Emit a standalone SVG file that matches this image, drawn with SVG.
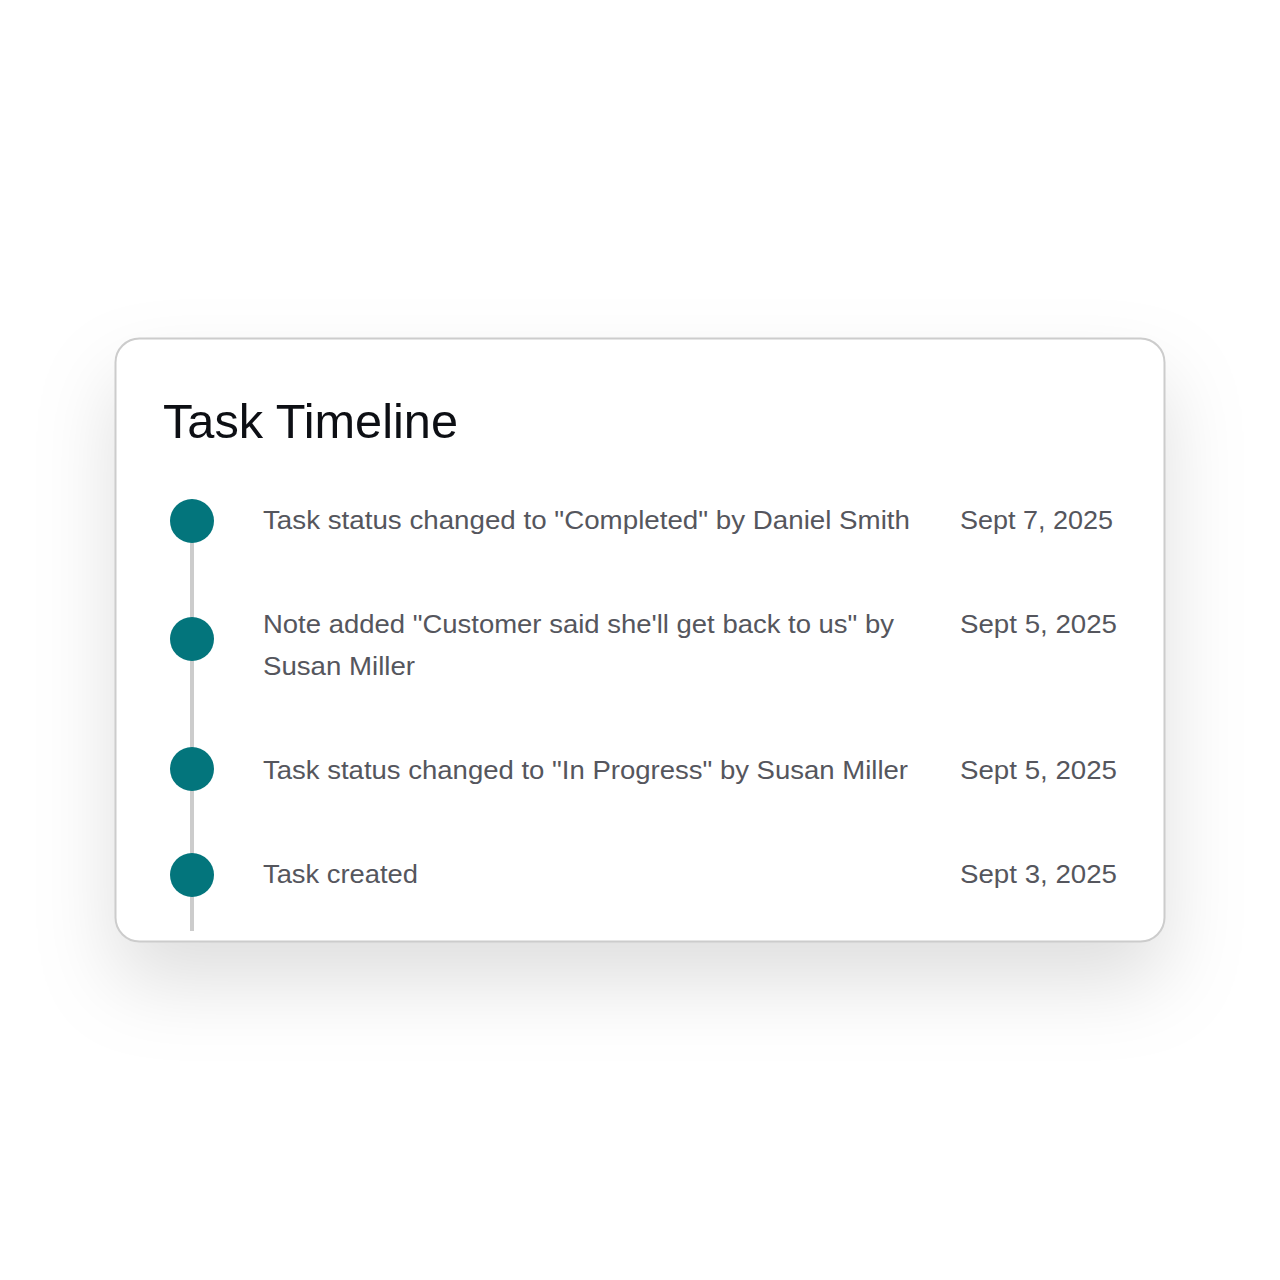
<svg xmlns="http://www.w3.org/2000/svg" width="1280" height="1280" viewBox="0 0 1280 1280">
<defs>
<filter id="shadow" x="-20%" y="-30%" width="140%" height="170%">
<feDropShadow dx="0" dy="40" stdDeviation="40" flood-color="#000" flood-opacity="0.13"/>
</filter>
<style>
.title{font-family:"Liberation Sans",Arial,sans-serif;font-size:48px;fill:#0d0f14;}
.body{font-family:"Liberation Sans",Arial,sans-serif;font-size:26px;fill:#55565d;}
.dot{fill:#03757c;}
.rail{stroke:#cccccc;stroke-width:4;fill:none;}
</style>
</defs>
<rect width="1280" height="1280" fill="#ffffff"/>
<g id="card">
<rect x="115.5" y="338.5" width="1049" height="603" rx="24" fill="#ffffff" filter="url(#shadow)"/>
<rect x="115.5" y="338.5" width="1049" height="603" rx="24" fill="#ffffff" stroke="#cccccc" stroke-width="2"/>
<text class="title" x="163" y="438" textLength="295" lengthAdjust="spacingAndGlyphs">Task Timeline</text>
</g>
<g id="connectors">
<line class="rail" x1="192" y1="521" x2="192" y2="931"/>
</g>
<g id="event1">
<circle class="dot" cx="192" cy="521" r="22"/>
<text class="body" x="263" y="529" textLength="647" lengthAdjust="spacingAndGlyphs">Task status changed to "Completed" by Daniel Smith</text>
<text class="body" x="960" y="529" textLength="153" lengthAdjust="spacingAndGlyphs">Sept 7, 2025</text>
</g>
<g id="event2">
<circle class="dot" cx="192" cy="639" r="22"/>
<text class="body" x="263" y="633" textLength="631" lengthAdjust="spacingAndGlyphs">Note added "Customer said she'll get back to us" by</text>
<text class="body" x="263" y="675" textLength="152" lengthAdjust="spacingAndGlyphs">Susan Miller</text>
<text class="body" x="960" y="633" textLength="157" lengthAdjust="spacingAndGlyphs">Sept 5, 2025</text>
</g>
<g id="event3">
<circle class="dot" cx="192" cy="769" r="22"/>
<text class="body" x="263" y="779" textLength="645" lengthAdjust="spacingAndGlyphs">Task status changed to "In Progress" by Susan Miller</text>
<text class="body" x="960" y="779" textLength="157" lengthAdjust="spacingAndGlyphs">Sept 5, 2025</text>
</g>
<g id="event4">
<circle class="dot" cx="192" cy="875" r="22"/>
<text class="body" x="263" y="883" textLength="155" lengthAdjust="spacingAndGlyphs">Task created</text>
<text class="body" x="960" y="883" textLength="157" lengthAdjust="spacingAndGlyphs">Sept 3, 2025</text>
</g>
</svg>
